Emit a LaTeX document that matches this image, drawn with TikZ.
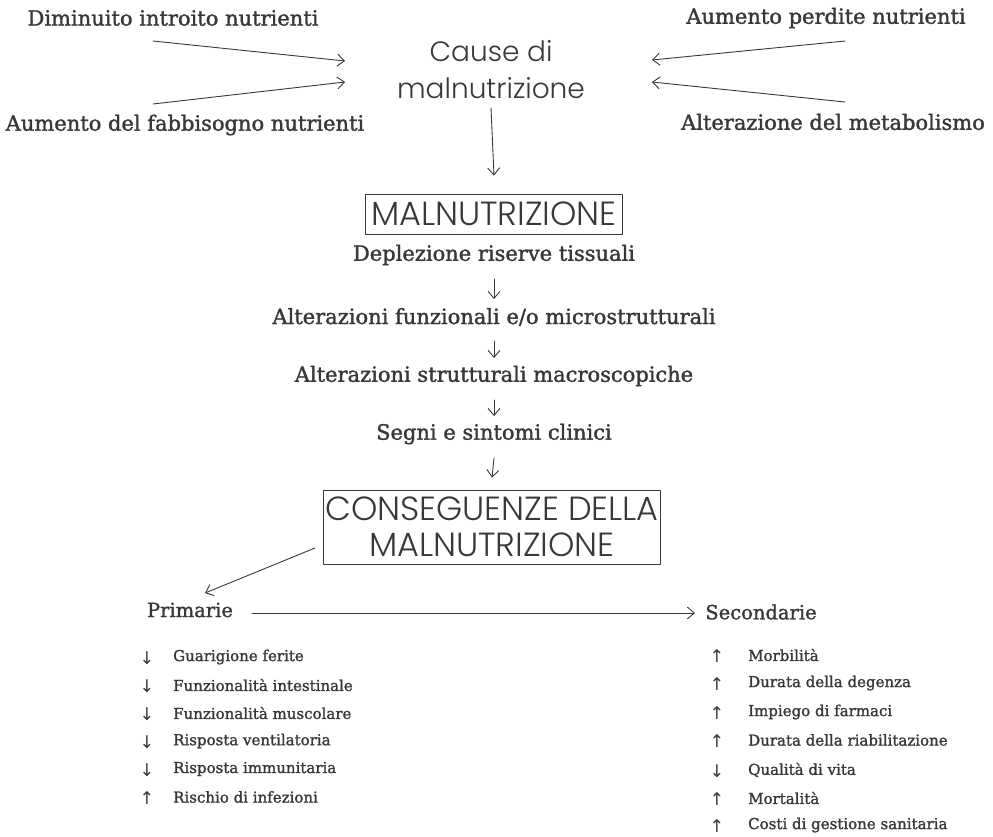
\documentclass[tikz,border=0pt]{standalone}
\usepackage{fontspec}
\setmainfont{DejaVu Serif}[FakeBold=1.5]
\IfFontExistsTF{Poppins Light}{\newfontfamily\thinsans{Poppins Light}}{\newfontfamily\thinsans{Poppins}}
\newfontfamily\symfont{DejaVu Sans}
\usetikzlibrary{arrows.meta}
\definecolor{ink}{HTML}{383838}
\tikzset{
  every picture/.append style={line cap=round,line join=round},
  mn cause/.style={text=ink,font=\fontsize{21}{25}\selectfont},
  mn flow/.style={text=ink,font=\fontsize{21}{25}\selectfont},
  mn title/.style={text=ink,align=center,font=\thinsans\fontsize{28}{37}\selectfont},
  mn box/.style={draw=ink,line width=0.8pt,text=ink,align=center,inner xsep=6pt,inner ysep=0pt,
    font=\thinsans\fontsize{33.5}{36}\selectfont},
  mn group/.style={text=ink,font=\fontsize{19.5}{24}\selectfont},
  mn item/.style={text=ink,anchor=west,inner sep=0pt,font=\fontsize{15}{18}\selectfont},
  mn sign/.style={text=ink,inner sep=0pt,yshift=-1pt,font=\symfont\fontsize{17.5}{20}\selectfont},
  mn arrow/.style={draw=ink,line width=0.9pt,-{Straight Barb[length=7pt,width=12pt]}}
}

\begin{document}
\begin{tikzpicture}[x=1pt,y=-1pt]
  \useasboundingbox (0,0) rectangle (993,836);
  % causes
  \node[mn cause] (dimin) at (173,18) {Diminuito introito nutrienti};
  \node[mn cause] (fabb) at (185,125) {Aumento del fabbisogno nutrienti};
  \node[mn cause] (perd) at (826,18) {Aumento perdite nutrienti};
  \node[mn cause] (metab) at (833,122) {Alterazione del metabolismo};
  \node[mn title] (cause) at (491,70) {Cause di\\malnutrizione};
  \draw[mn arrow] ([shift={(-20,23)}]dimin.center) -- ([shift={(-146,-9)}]cause.center);
  \draw[mn arrow] ([shift={(-32,-21)}]fabb.center) -- ([shift={(-146,12)}]cause.center);
  \draw[mn arrow] ([shift={(19,23)}]perd.center) -- ([shift={(161,-10)}]cause.center);
  \draw[mn arrow] ([shift={(12,-20)}]metab.center) -- ([shift={(161,12)}]cause.center);
  % chain
  \node[mn box,minimum height=40pt] (malbox) at (494,214) {MALNUTRIZIONE};
  \draw[mn arrow] ([yshift=-38pt]cause.center) -- ([yshift=18pt]malbox.north);
  \node[mn flow] (depl) at (494,255) {Deplezione riserve tissuali};
  \node[mn flow] (altfun) at (494,317) {Alterazioni funzionali e/o microstrutturali};
  \node[mn flow] (altstr) at (494,376) {Alterazioni strutturali macroscopiche};
  \node[mn flow] (segni) at (494,434) {Segni e sintomi clinici};
  \node[mn box,minimum height=74pt,inner xsep=2pt] (consbox) at (492,527) {CONSEGUENZE DELLA\\MALNUTRIZIONE};
  \draw[mn arrow] ([yshift=-24pt]depl.center) -- ([yshift=18pt]altfun.center);
  \draw[mn arrow] ([yshift=-24pt]altfun.center) -- ([yshift=18pt]altstr.center);
  \draw[mn arrow] ([yshift=-24pt]altstr.center) -- ([yshift=18pt]segni.center);
  \draw[mn arrow] ([yshift=-24pt]segni.center) -- ([yshift=12pt]consbox.north);
  % consequences
  \node[mn group] (prim) at (190,610) {Primarie};
  \node[mn group] (sec) at (761,612) {Secondarie};
  \draw[mn arrow] ([shift={(-177,21)}]consbox.center) -- ([shift={(15,-17)}]prim.center);
  \draw[mn arrow] ([shift={(62,3)}]prim.center) -- ([shift={(-66,1)}]sec.center);
  \foreach \y/\s/\lab [count=\i] in {657/↓/Guarigione ferite,685/↓/Funzionalità intestinale,
      713/↓/Funzionalità muscolare,741/↓/Risposta ventilatoria,769/↓/Risposta immunitaria,
      797/↑/Rischio di infezioni}{
    \node[mn sign] (psign\i) at (147,\y) {\s};
    \node[mn item] (prim\i) at (173,\y) {\lab};
  }
  \foreach \y/\s/\lab [count=\i] in {655/↑/Morbilità,683/↑/Durata della degenza,
      712/↑/Impiego di farmaci,740/↑/Durata della riabilitazione,770/↓/Qualità di vita,
      798/↑/Mortalità,825/↑/Costi di gestione sanitaria}{
    \node[mn sign] (ssign\i) at (717,\y) {\s};
    \node[mn item] (sec\i) at (748,\y) {\lab};
  }
\end{tikzpicture}
\end{document}
